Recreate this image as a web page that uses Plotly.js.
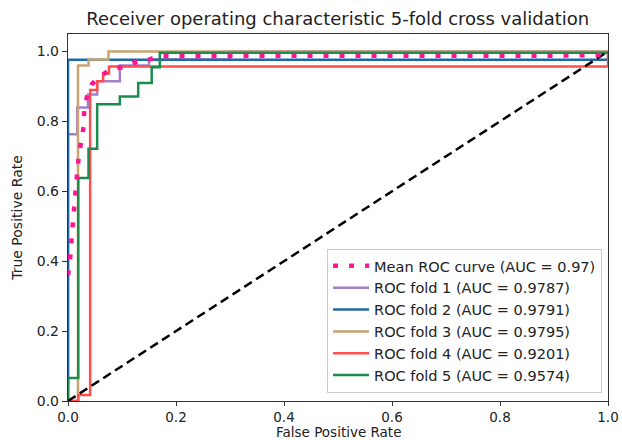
<!DOCTYPE html>
<html>
<head>
<meta charset="utf-8">
<script src="https://cdn.plot.ly/plotly-3.0.1.min.js"></script>
<style>html,body{margin:0;padding:0;background:#fff;}#chart{width:622px;height:440px;}</style>
</head>
<body>
<div id="chart"></div>
<script>
// Mean ROC curve
const meanFpr = [0, 0.004, 0.008, 0.012, 0.015, 0.02, 0.025, 0.029, 0.03, 0.035, 0.044, 0.06, 0.08, 0.1, 0.12, 0.15, 0.17, 0.3, 0.5, 0.7, 0.9, 0.99, 1.0];
const meanTpr = [0.36, 0.41, 0.49, 0.578, 0.62, 0.70, 0.744, 0.786, 0.83, 0.87, 0.906, 0.93, 0.95, 0.955, 0.967, 0.977, 0.987, 0.988, 0.988, 0.988, 0.988, 0.99, 1.0];
// Fold 1
const fold1Fpr = [0, 0, 0.017, 0.017, 0.037, 0.037, 0.054, 0.054, 0.096, 0.096, 0.15, 0.15, 0.3, 0.3, 1.0];
const fold1Tpr = [0, 0.763, 0.763, 0.84, 0.84, 0.877, 0.877, 0.915, 0.915, 0.96, 0.96, 0.977, 0.977, 1.0, 1.0];
// Fold 2
const fold2Fpr = [0, 0, 1.0, 1.0];
const fold2Tpr = [0, 0.976, 0.976, 1.0];
// Fold 3
const fold3Fpr = [0, 0.0185, 0.0185, 0.038, 0.038, 0.075, 0.075, 1.0];
const fold3Tpr = [0, 0, 0.96, 0.96, 0.977, 0.977, 1.0, 1.0];
// Fold 4
const fold4Fpr = [0, 0.019, 0.019, 0.041, 0.041, 0.054, 0.054, 0.065, 0.065, 0.076, 0.076, 1.0, 1.0];
const fold4Tpr = [0, 0, 0.017, 0.017, 0.89, 0.89, 0.915, 0.915, 0.937, 0.937, 0.957, 0.957, 1.0];
// Fold 5
const fold5Fpr = [0, 0, 0.019, 0.019, 0.038, 0.038, 0.054, 0.054, 0.096, 0.096, 0.13, 0.13, 0.155, 0.155, 0.17, 0.17, 1.0];
const fold5Tpr = [0, 0.066, 0.066, 0.638, 0.638, 0.722, 0.722, 0.849, 0.849, 0.871, 0.871, 0.91, 0.91, 0.955, 0.955, 0.996, 0.996];
// Chance line
const chanceX = [0, 1];
const chanceY = [0, 1];

const names = [
  'Mean ROC curve (AUC = 0.97)',
  'ROC fold 1 (AUC = 0.9787)',
  'ROC fold 2 (AUC = 0.9791)',
  'ROC fold 3 (AUC = 0.9795)',
  'ROC fold 4 (AUC = 0.9201)',
  'ROC fold 5 (AUC = 0.9574)'
];
const xTitle = 'False Positive Rate';
const yTitle = 'True Positive Rate';
const colors = ['#ff1493', '#a67fcb', '#1f68a8', '#c9a46e', '#ff4d4d', '#1b8c4c'];

const folds = [
  [fold1Fpr, fold1Tpr], [fold2Fpr, fold2Tpr], [fold3Fpr, fold3Tpr],
  [fold4Fpr, fold4Tpr], [fold5Fpr, fold5Tpr]
];

const data = [];
folds.forEach((f, i) => {
  data.push({
    x: f[0], y: f[1], type: 'scatter', mode: 'lines',
    name: names[i + 1], legendrank: i + 2,
    line: {color: colors[i + 1], width: 2.5}
  });
});
data.push({
  x: chanceX, y: chanceY, type: 'scatter', mode: 'lines',
  showlegend: false, line: {color: '#000', width: 2.5, dash: '9px,5px'}
});
data.push({
  x: meanFpr, y: meanTpr, type: 'scatter', mode: 'lines',
  name: names[0], legendrank: 1,
  line: {color: colors[0], width: 4.5, dash: '5px,11px'}
});

const layout = {
  width: 622, height: 440,
  margin: {l: 68, r: 14, t: 34, b: 39},
  paper_bgcolor: '#fff', plot_bgcolor: '#fff',
  font: {family: 'DejaVu Sans', size: 14, color: '#222'},
  title: {
    text: 'Receiver operating characteristic 5-fold cross validation',
    font: {family: 'DejaVu Sans', size: 18, color: '#222'},
    x: 0.543, xanchor: 'center', y: 0.958, yanchor: 'middle', yref: 'container'
  },
  xaxis: {
    range: [0, 1], tickvals: [0, 0.2, 0.4, 0.6, 0.8, 1.0],
    ticktext: ['0.0', '0.2', '0.4', '0.6', '0.8', '1.0'],
    showgrid: false, zeroline: false, showline: true, linecolor: '#333', linewidth: 1.2, mirror: true,
    ticks: 'outside', ticklen: 4, tickcolor: '#333',
    tickfont: {size: 13.5}
  },
  yaxis: {
    range: [0, 1.05], tickvals: [0, 0.2, 0.4, 0.6, 0.8, 1.0],
    ticktext: ['0.0', '0.2', '0.4', '0.6', '0.8', '1.0'],
    showgrid: false, zeroline: false, showline: true, linecolor: '#333', linewidth: 1.2, mirror: true,
    ticks: 'outside', ticklen: 5, tickcolor: '#333',
    tickfont: {size: 14},
    title: {text: yTitle, font: {size: 14}, standoff: 10}
  },
  annotations: [{
    text: xTitle, xref: 'paper', yref: 'paper', x: 0.5, xanchor: 'center',
    y: -(432 - 401) / 367, yanchor: 'middle', showarrow: false,
    font: {family: 'DejaVu Sans', size: 13.5, color: '#222'}
  }],
  legend: {
    x: 0.989, xanchor: 'right', y: 0.022, yanchor: 'bottom',
    bgcolor: 'rgba(255,255,255,0.85)', bordercolor: '#ccc', borderwidth: 1,
    itemwidth: 36,
    font: {family: 'DejaVu Sans', size: 14.5, color: '#222'}
  },
  showlegend: true
};

Plotly.newPlot('chart', data, layout, {displayModeBar: false, staticPlot: true});
</script>
</body>
</html>
